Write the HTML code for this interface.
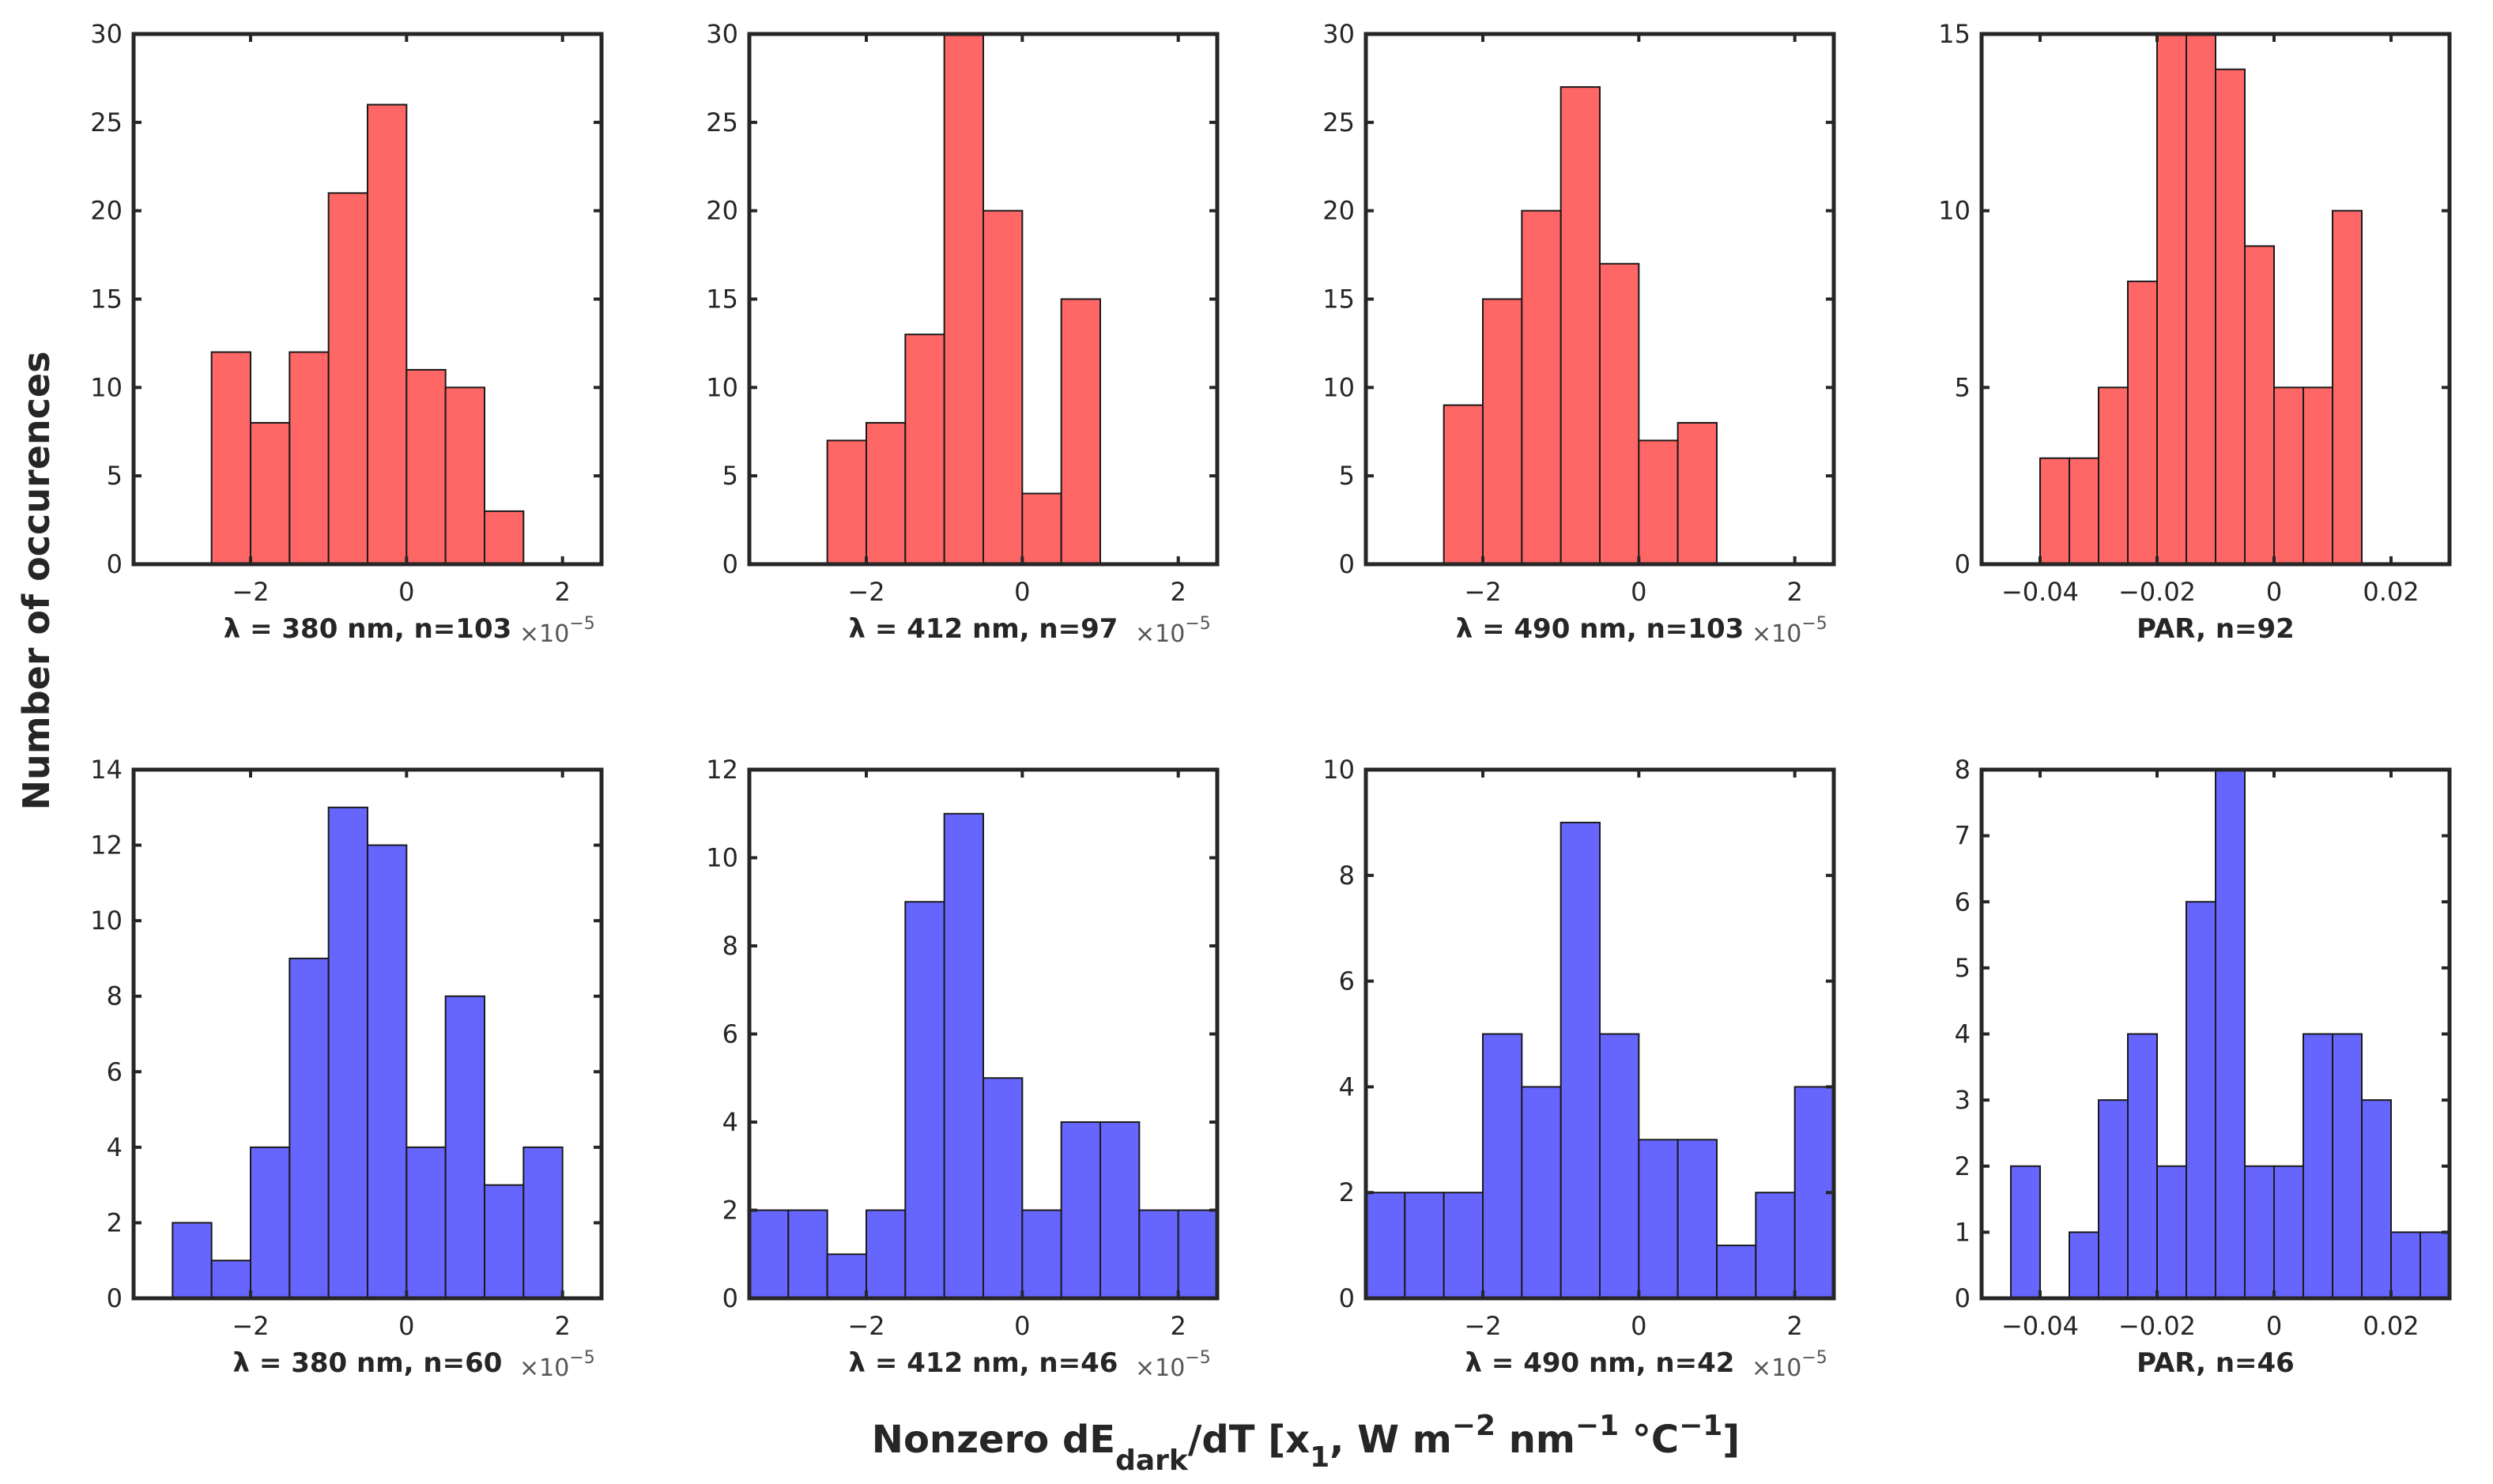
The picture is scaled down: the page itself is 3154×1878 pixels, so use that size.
<!DOCTYPE html>
<html><head><meta charset="utf-8">
<style>
html,body{margin:0;padding:0;background:#fff;}
svg{display:block;font-family:"DejaVu Sans","Liberation Sans",sans-serif;}
</style></head>
<body>
<svg id="fig" width="3154" height="1878" viewBox="0 0 3154 1878" xmlns="http://www.w3.org/2000/svg">
<text x="0" y="0" transform="translate(62,735) rotate(-90)" text-anchor="middle" font-size="46" font-weight="bold" fill="#262626">Number of occurences</text>
<text x="1652" y="1838" text-anchor="middle" font-size="48" font-weight="bold" fill="#262626">Nonzero dE<tspan font-size="36" dy="22">dark</tspan><tspan dy="-22">/dT [x</tspan><tspan font-size="36" dy="18">1</tspan><tspan dy="-18">, W m</tspan><tspan font-size="36" dy="-22">−2</tspan><tspan dy="22"> nm</tspan><tspan font-size="36" dy="-22">−1</tspan><tspan dy="22"> °C</tspan><tspan font-size="36" dy="-22">−1</tspan><tspan dy="22">]</tspan></text>
</svg>
<script>
// panel data
const p1Counts=[12,8,12,21,26,11,10,3];
const p2Counts=[7,8,13,30,20,4,15];
const p3Counts=[9,15,20,27,17,7,8];
const p4Counts=[3,3,5,8,15,15,14,9,5,5,10];
const p5Counts=[2,1,4,9,13,12,4,8,3,4];
const p6Counts=[2,2,1,2,9,11,5,2,4,4,2,2];
const p7Counts=[2,2,2,5,4,9,5,3,3,1,2,4];
const p8Counts=[2,0,1,3,4,2,6,8,2,2,4,4,3,1,1];
const binStarts=[-2.5,-2.5,-2.5,-0.04,-3,-3.5,-3.5,-0.045];
const binWidths=[0.5,0.5,0.5,0.005,0.5,0.5,0.5,0.005];
const yMaxes=[30,30,30,15,14,12,10,8];
const yStep=[5,5,5,5,2,2,2,1];
const xTickSci=[-2,0,2];
const xTickPar=[-0.04,-0.02,0,0.02];
const xTickParLabels=["−0.04","−0.02","0","0.02"];
const labels=["λ = 380 nm, n=103","λ = 412 nm, n=97","λ = 490 nm, n=103","PAR, n=92","λ = 380 nm, n=60","λ = 412 nm, n=46","λ = 490 nm, n=42","PAR, n=46"];

const allCounts=[p1Counts,p2Counts,p3Counts,p4Counts,p5Counts,p6Counts,p7Counts,p8Counts];
const NS="http://www.w3.org/2000/svg";
const svg=document.getElementById('fig');
const colL=[169,948,1728,2507], colW=592;
const rowT=[43,974], rowB=[714,1643];
function mk(tag,attrs,parent){const e=document.createElementNS(NS,tag);for(const k in attrs)e.setAttribute(k,attrs[k]);parent.appendChild(e);return e;}
for(let i=0;i<8;i++){
  const r=Math.floor(i/4), c=i%4;
  const L=colL[c], R=L+colW, T=rowT[r], B=rowB[r];
  const par=(c===3);
  const xmin=par?-0.05:-3.5, xmax=par?0.03:2.5;
  const sx=v=>L+(v-xmin)/(xmax-xmin)*(R-L);
  const sy=v=>B-v/yMaxes[i]*(B-T);
  const g=mk('g',{},svg);
  
  
  const counts=allCounts[i];
  const fill=r===0?'#ff6666':'#6666ff';
  counts.forEach((v,j)=>{
    if(v<=0)return;
    const x0=sx(binStarts[i]+j*binWidths[i]), x1=sx(binStarts[i]+(j+1)*binWidths[i]);
    const b=mk('rect',{x:x0,y:sy(v),width:x1-x0,height:B-sy(v),fill:fill,stroke:'#1a1a1a','stroke-width':2},g);
    
    
  });
  const box=mk('rect',{x:L,y:T,width:R-L,height:B-T,fill:'none',stroke:'#262626','stroke-width':5},g);
  
  
  for(let v=0;v<=yMaxes[i];v+=yStep[i]){
    const y=sy(v);
    mk('line',{x1:L,y1:y,x2:L+10,y2:y,stroke:'#262626','stroke-width':4},g);
    mk('line',{x1:R,y1:y,x2:R-10,y2:y,stroke:'#262626','stroke-width':4},g);
    const t=mk('text',{x:L-14,y:y+11,'text-anchor':'end','font-size':32,fill:'#262626'},g);
    t.textContent=String(v);
    
    
  }
  const xt=par?xTickPar:xTickSci;
  xt.forEach((v,k)=>{
    const x=sx(v);
    mk('line',{x1:x,y1:B,x2:x,y2:B-10,stroke:'#262626','stroke-width':4},g);
    mk('line',{x1:x,y1:T,x2:x,y2:T+10,stroke:'#262626','stroke-width':4},g);
    const t=mk('text',{x:x,y:B+46,'text-anchor':'middle','font-size':32,fill:'#262626'},g);
    t.textContent=par?xTickParLabels[k]:(v<0?'−'+Math.abs(v):String(v));
    
    
  });
  const lab=mk('text',{x:(L+R)/2,y:B+93,'text-anchor':'middle','font-size':34,'font-weight':'bold',fill:'#262626'},g);
  lab.textContent=labels[i];
  
  
  if(!par){
    const ex=mk('text',{x:R-104,y:B+98,'font-size':30,fill:'#555'},g);
    ex.textContent='×10';
    
    
    const ts=mk('tspan',{dy:-16,'font-size':22},ex);
    ts.textContent='−5';
  }
}
</script>
</body></html>
